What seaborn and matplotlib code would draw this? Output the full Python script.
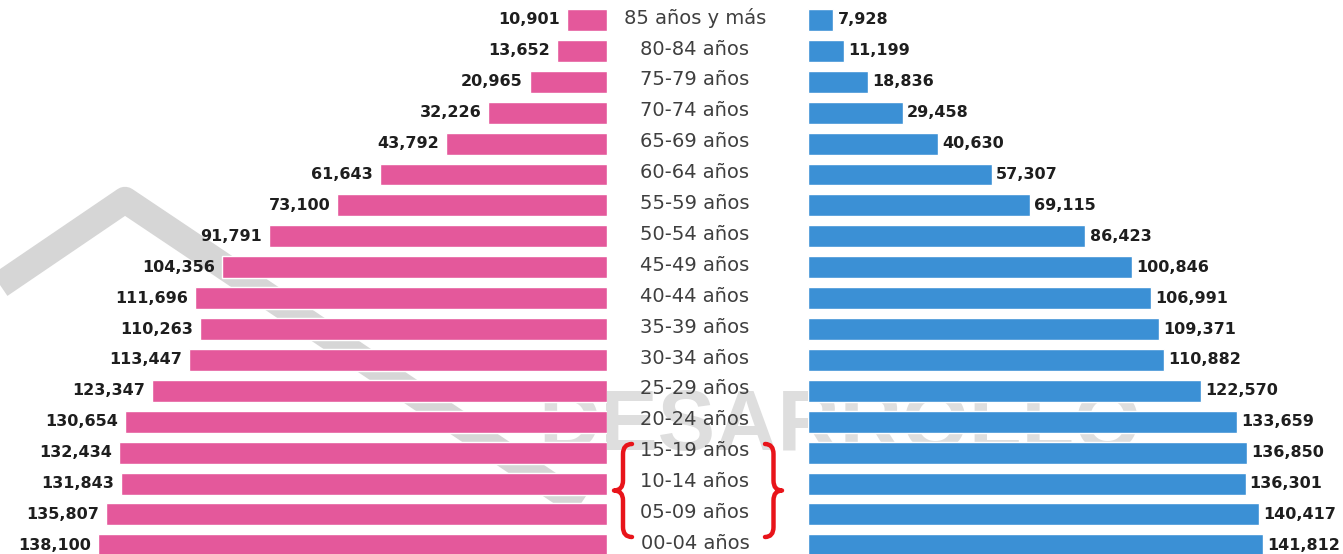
import matplotlib
matplotlib.use('Agg')
import matplotlib.pyplot as plt
import matplotlib.transforms as mtransforms
from matplotlib.path import Path
from matplotlib.patches import PathPatch
from matplotlib.lines import Line2D
import seaborn as sns

edades = ['85 años y más', '80-84 años', '75-79 años', '70-74 años', '65-69 años',
          '60-64 años', '55-59 años', '50-54 años', '45-49 años', '40-44 años',
          '35-39 años', '30-34 años', '25-29 años', '20-24 años', '15-19 años',
          '10-14 años', '05-09 años', '00-04 años']
mujeres = [10901, 13652, 20965, 32226, 43792, 61643, 73100, 91791, 104356, 111696,
           110263, 113447, 123347, 130654, 132434, 131843, 135807, 138100]
hombres = [7928, 11199, 18836, 29458, 40630, 57307, 69115, 86423, 100846, 106991,
           109371, 110882, 122570, 133659, 136850, 136301, 140417, 141812]

rosa = '#E4589B'
azul = '#3B90D5'
W, H = 1343, 554

sns.set_style('white')
fig = plt.figure(figsize=(W / 100, H / 100), dpi=100)
fig.patch.set_facecolor('white')


def fx(px):
    return px / W


def fy(py):
    return 1 - py / H


# watermark (house outline + text), behind everything
fig.add_artist(Line2D([fx(0), fx(125), fx(580)], [fy(285), fy(200), fy(505)],
                      transform=fig.transFigure, color='#d6d6d6', lw=19,
                      solid_joinstyle='round', solid_capstyle='butt', zorder=-2))
fig.text(fx(840), fy(428), 'DESARROLLO', ha='center', va='center', fontsize=62,
         family='Liberation Sans', fontweight='bold', color='#dedede', zorder=-2)

ax_l = fig.add_axes([0, 0, fx(607), 1])
ax_r = fig.add_axes([fx(808), 0, fx(W - 808), 1])

sns.barplot(x=mujeres, y=edades, orient='h', color=rosa, saturation=1,
            width=0.71, ax=ax_l)
sns.barplot(x=hombres, y=edades, orient='h', color=azul, saturation=1,
            width=0.71, ax=ax_r)

ax_l.set_xlim(164630, 0)
ax_r.set_xlim(0, 166670)
for ax in (ax_l, ax_r):
    ax.set_ylim(17.28, -0.647)
    ax.set_facecolor('none')
    ax.axis('off')

for i, v in enumerate(mujeres):
    ax_l.annotate(f'{v:,}', (v, i), xytext=(-5, 0), textcoords='offset points',
                  ha='right', va='center', fontsize=11.5, fontweight='bold',
                  color='#1e1e1e', annotation_clip=False)
for i, v in enumerate(hombres):
    ax_r.annotate(f'{v:,}', (v, i), xytext=(3, 0), textcoords='offset points',
                  ha='left', va='center', fontsize=11.5, fontweight='bold',
                  color='#1e1e1e', annotation_clip=False)

trans = mtransforms.blended_transform_factory(fig.transFigure, ax_l.transData)
for i, lab in enumerate(edades):
    fig.text(fx(695), i - 0.06, lab, transform=trans, ha='center', va='center',
             fontsize=14, color='#3f3f3f')


def llave(x_tip, x_point, top, bot):
    xm = (x_tip + x_point) / 2
    mid = (top + bot) / 2
    r = 10
    pts = [(x_tip, top), (xm, top), (xm, top + r),
           (xm, mid - r), (xm, mid), (x_point, mid),
           (xm, mid), (xm, mid + r),
           (xm, bot - r), (xm, bot), (x_tip, bot)]
    codes = [Path.MOVETO, Path.CURVE3, Path.CURVE3,
             Path.LINETO, Path.CURVE3, Path.CURVE3,
             Path.CURVE3, Path.CURVE3,
             Path.LINETO, Path.CURVE3, Path.CURVE3]
    verts = [(fx(x), fy(y)) for x, y in pts]
    fig.add_artist(PathPatch(Path(verts, codes), transform=fig.transFigure,
                             fill=False, edgecolor='#E8141A', lw=3.2,
                             capstyle='round', joinstyle='round', zorder=5))


llave(632, 614, 444, 537)
llave(765, 782, 444, 537)

plt.savefig('out.png', dpi=100)
